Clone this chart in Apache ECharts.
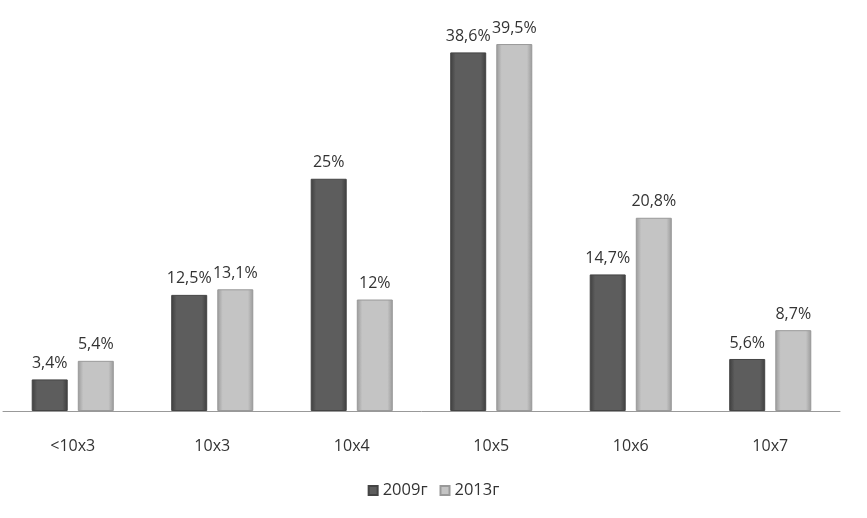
<!DOCTYPE html>
<html><head><meta charset="utf-8">
<script src="https://cdn.jsdelivr.net/npm/echarts@6/dist/echarts.min.js"></script>
<style>html,body{margin:0;padding:0;background:#fff}#c{width:867px;height:518px}</style>
</head><body><div id="c"></div>
<script>
var categories = ['<10x3','10x3','10x4','10x5','10x6','10x7'];
var values2009 = [3.4, 12.5, 25, 38.6, 14.7, 5.6];
var values2013 = [5.4, 13.1, 12, 39.5, 20.8, 8.7];
var seriesNames = ['2009г','2013г'];

function grad(edge, mid){
  return new echarts.graphic.LinearGradient(0,0,1,0,[
    {offset:0,color:edge},{offset:0.15,color:mid},{offset:0.85,color:mid},{offset:1,color:edge}]);
}
function fmt(v){ return String(v).replace('.',',') + '%'; }
var font = '"Open Sans", sans-serif';
var chart = echarts.init(document.getElementById('c'));
chart.setOption({
  animation:false,
  grid:{left:3,right:27,top:39.4,bottom:107},
  legend:{bottom:14,left:'center',itemWidth:9,itemHeight:9,itemGap:12,icon:'rect',
    textStyle:{fontFamily:font,fontSize:16.5,color:'#333'},
    data:seriesNames},
  xAxis:{type:'category',data:categories,
    axisLine:{lineStyle:{color:'#999',width:1}},axisTick:{show:false},
    axisLabel:{margin:27,fontFamily:font,fontSize:16,color:'#333'}},
  yAxis:{type:'value',min:0,max:40,show:false,splitLine:{show:false}},
  series:[
    {name:seriesNames[0],type:'bar',data:values2009,barWidth:36,barGap:'28%',
     itemStyle:{color:grad('#3e3e3e','#5d5d5d'),borderColor:'#444',borderWidth:1},
     label:{show:true,position:'top',distance:8,fontFamily:font,fontSize:16,color:'#333',formatter:function(p){return fmt(p.value);}}},
    {name:seriesNames[1],type:'bar',data:values2013,barWidth:36,
     itemStyle:{color:grad('#9a9a9a','#c4c4c4'),borderColor:'#999',borderWidth:1},
     label:{show:true,position:'top',distance:8,fontFamily:font,fontSize:16,color:'#333',formatter:function(p){return fmt(p.value);}}}
  ]
});
</script></body></html>
